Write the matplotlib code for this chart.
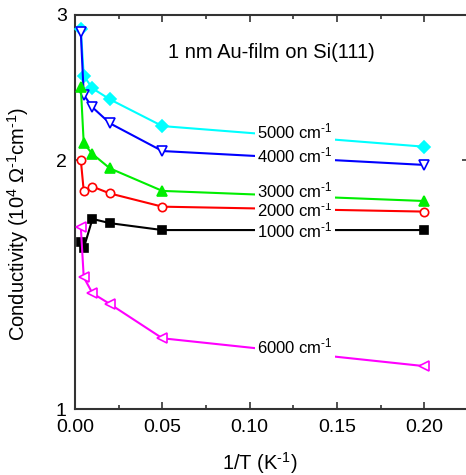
import matplotlib
matplotlib.use("Agg")
import matplotlib.pyplot as plt
from matplotlib.ticker import FixedLocator, NullLocator, FixedFormatter

plt.rcParams['font.family'] = ['Liberation Sans', 'DejaVu Sans']
plt.rcParams['mathtext.fontset'] = 'custom'
plt.rcParams['mathtext.rm'] = 'Liberation Sans'
plt.rcParams['mathtext.it'] = 'Liberation Sans'
plt.rcParams['mathtext.sf'] = 'Liberation Sans'

inv_T = [0.00333, 0.005, 0.01, 0.02, 0.05, 0.2]
sig_1000 = [1.595, 1.566, 1.699, 1.679, 1.647, 1.647]
sig_2000 = [2.002, 1.837, 1.859, 1.824, 1.758, 1.734]
sig_3000 = [2.453, 2.098, 2.036, 1.956, 1.837, 1.786]
sig_4000 = [2.858, 2.401, 2.319, 2.218, 2.053, 1.975]
sig_5000 = [2.885, 2.533, 2.445, 2.371, 2.201, 2.078]
sig_6000 = [1.660, 1.444, 1.381, 1.340, 1.218, 1.127]

labels = ["1000", "2000", "3000", "4000", "5000", "6000"]
x_ticks = [0.00, 0.05, 0.10, 0.15, 0.20]
y_ticks = [1, 2, 3]

fig = plt.figure(figsize=(4.66, 4.75), dpi=100)
W, H = 466, 475
left, right, top, bottom = 75, 468.6, 15, 409
ax = fig.add_axes([left / W, 1 - bottom / H, (right - left) / W, (bottom - top) / H])

series = [
    (sig_5000, 'D', '#00ffff', True, 6.5),
    (sig_4000, 'v', '#0000ff', False, 7.0),
    (sig_3000, '^', '#00ee00', True, 7.5),
    (sig_2000, 'o', '#ff0000', False, 6.0),
    (sig_1000, 's', '#000000', True, 5.5),
    (sig_6000, '<', '#ff00ff', False, 7.0),
]
for ys, m, c, filled, ms in series:
    ax.plot(inv_T, ys, color=c, lw=1.5, marker=m, ms=ms,
            mfc=c if filled else 'white', mec=c, mew=1.2, zorder=3, clip_on=False)

ax.set_yscale('log')
ax.set_xlim(0, 0.2254)
ax.set_ylim(1, 3)
ax.yaxis.set_major_locator(FixedLocator(y_ticks))
ax.yaxis.set_major_formatter(FixedFormatter([str(v) for v in y_ticks]))
ax.yaxis.set_minor_locator(NullLocator())
ax.xaxis.set_major_locator(FixedLocator(x_ticks))
ax.xaxis.set_major_formatter(FixedFormatter(["%.2f" % v for v in x_ticks]))
ax.xaxis.set_minor_locator(FixedLocator([0.025, 0.075, 0.125, 0.175, 0.225]))

for s in ax.spines.values():
    s.set_color('#333333')
    s.set_linewidth(1.5)
ax.tick_params(which='both', direction='in', top=True, right=True, color='#333333',
               labelsize=14, width=1.2)
ax.tick_params(axis='x', pad=7)
ax.tick_params(axis='y', pad=6)
ax.tick_params(which='major', length=5)
ax.tick_params(which='minor', length=3)

sup = r"$^{\text{-1}}$"

# series labels (text placed over the line segments)
lab_y = [1.615, 1.712, 1.803, 1.991, 2.129, 1.167]
for name, yv in zip(labels, lab_y):
    ax.text(0.1045, yv, name + " cm" + sup, fontsize=12, ha='left', va='baseline',
            zorder=4, bbox=dict(facecolor='white', edgecolor='none', pad=1.5))

ax.text(0.5, 0.905, "1 nm Au-film on Si(111)", transform=ax.transAxes, ha='center',
        va='center', fontsize=14.5)

fig.text(260 / W, 1 - 463 / H, "1/T (K" + sup + ")", ha='center', va='center', fontsize=14.5)
fig.text(18 / W, 1 - 224 / H,
         r"Conductivity (10$^{\text{4}}$ $\Omega$" + sup + "cm" + sup + ")",
         ha='center', va='center', rotation=90, fontsize=14.5)

fig.savefig("out.png", dpi=100)
